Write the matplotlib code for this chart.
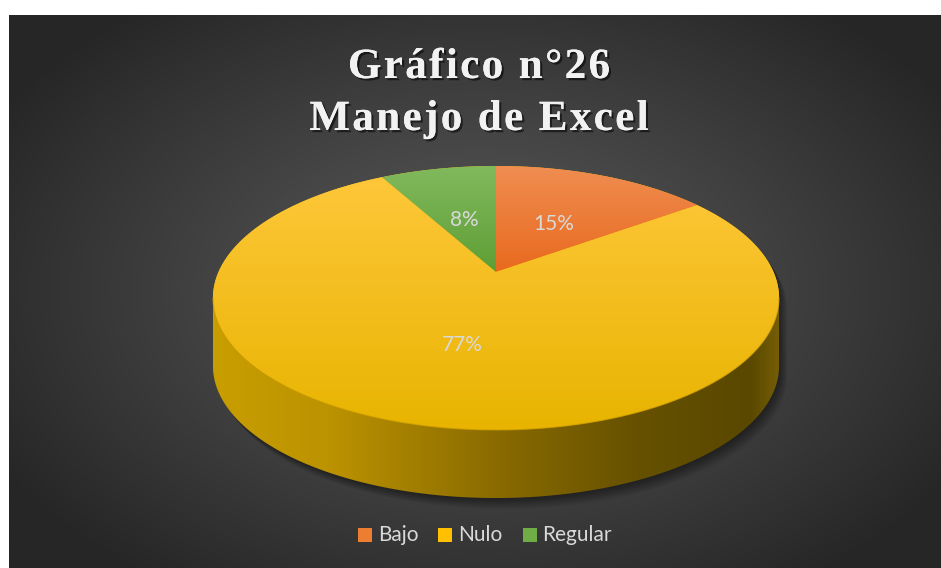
import numpy as np
import matplotlib
matplotlib.use('Agg')
import matplotlib.pyplot as plt
from matplotlib.patches import Polygon, Rectangle
import matplotlib.patheffects as pe
from matplotlib.font_manager import FontProperties, findfont
from matplotlib.ft2font import FT2Font
from matplotlib.colors import LinearSegmentedColormap

# ---------------- data ----------------
categories = ['Bajo', 'Nulo', 'Regular']
values = [15, 77, 8]
slice_colors = ['#ED7D31', '#FFC000', '#70AD47']
slice_top_colors = ['#F08E52', '#FEC73A', '#82BA5E']
slice_bottom_colors = ['#E8691E', '#E8B400', '#5E9E35']
title_lines = ['Gráfico n°26', 'Manejo de Excel']

# ---------------- figure ----------------
W, H = 941, 568
DPI = 100
fig = plt.figure(figsize=(W / DPI, H / DPI), dpi=DPI, facecolor='white')
ax = fig.add_axes([0, 0, 1, 1])
ax.axis('off')

# background radial gradient (chart area)
X0, Y0 = 9, 15
gx = np.linspace(X0, W, 470)
gy = np.linspace(Y0, H, 280)
GX, GY = np.meshgrid(gx, gy)
t = np.sqrt(((GX - 480) / 560) ** 2 + ((GY - 290) / 360) ** 2)
t = np.clip(t, 0, 1) ** 1.1
c_in = np.array([90, 90, 90]) / 255
c_out = np.array([38, 38, 38]) / 255
bg = c_in * (1 - t[..., None]) + c_out * t[..., None]
ax.imshow(bg, extent=(X0, W, H, Y0), origin='upper', aspect='auto',
          zorder=0, interpolation='bilinear')
ax.set_xlim(0, W)
ax.set_ylim(H, 0)

# ---------------- 3D pie geometry ----------------
CX, CY = 496, 272
RA, RB, K = 277.5, 126.9, -0.197
DEPTH = 68


def proj(phi_deg, r=1.0):
    phi = np.radians(phi_deg)
    x = r * np.sin(phi)
    z = -r * np.cos(phi)
    w = 1 + K * z
    return CX + RA * x / w, CY + RB * z / w


phi_r = np.degrees(np.arccos(K))
phi_l = 360 - phi_r

# full top ellipse
allphi = np.linspace(0, 360, 720)
ex, ey = proj(allphi)

# side polygon (visible front wall)
sphi = np.linspace(phi_r, phi_l, 400)
sx, sy = proj(sphi)
side_pts = np.column_stack([np.r_[sx, sx[::-1]], np.r_[sy, sy[::-1] + DEPTH]])

# silhouette for the shadow
back_phi = np.linspace(phi_l, phi_r + 360, 400)
bx, by = proj(back_phi)
sil_full = np.vstack([np.column_stack([sx, sy + DEPTH]),
                      np.column_stack([bx, by])])

# soft shadow
for i in range(1, 10):
    sh = sil_full.copy()
    sh[:, 0] += i * 0.9
    sh[:, 1] += i * 1.2
    ax.add_patch(Polygon(sh, closed=True, facecolor='black', edgecolor='none',
                         alpha=0.05, zorder=1))

# side with horizontal gradient
side_cmap = LinearSegmentedColormap.from_list('side', [
    (0.00, (200 / 255, 158 / 255, 0)),
    (0.20, (188 / 255, 147 / 255, 0)),
    (0.50, (138 / 255, 107 / 255, 0)),
    (0.75, (102 / 255, 81 / 255, 0)),
    (0.95, (90 / 255, 72 / 255, 0)),
    (1.00, (118 / 255, 94 / 255, 6 / 255)),
])
sxmin, sxmax = side_pts[:, 0].min(), side_pts[:, 0].max()
symin, symax = side_pts[:, 1].min(), side_pts[:, 1].max()
grad = np.linspace(0, 1, 512)[None, :]
side_patch = Polygon(side_pts, closed=True, facecolor='none', edgecolor='none', zorder=2)
ax.add_patch(side_patch)
im = ax.imshow(np.repeat(grad, 4, axis=0), cmap=side_cmap,
               extent=(sxmin, sxmax, symax, symin),
               origin='upper', aspect='auto', zorder=2, interpolation='bilinear')
im.set_clip_path(side_patch)

# base top ellipse (avoids seams between slices)
ax.add_patch(Polygon(np.column_stack([ex, ey]), closed=True, facecolor='#F8BE00',
                     edgecolor='none', zorder=3))

# slices with vertical gradient
total = float(sum(values))
start = 0.0
label_pos = []
for cat, v, ct, cb in zip(categories, values, slice_top_colors, slice_bottom_colors):
    span = 360.0 * v / total
    ph = np.linspace(start, start + span, max(int(span * 3), 4))
    px, py = proj(ph)
    pts = np.vstack([[CX, CY], np.column_stack([px, py])])
    patch = Polygon(pts, closed=True, facecolor='none', edgecolor='none', zorder=4)
    ax.add_patch(patch)
    ymin, ymax = pts[:, 1].min(), pts[:, 1].max()
    xmin, xmax = pts[:, 0].min(), pts[:, 0].max()
    cmap = LinearSegmentedColormap.from_list('s', [ct, cb])
    vg = np.linspace(0, 1, 256)[:, None]
    im2 = ax.imshow(np.repeat(vg, 4, axis=1), cmap=cmap,
                    extent=(xmin - 1, xmax + 1, ymax + 1, ymin - 1),
                    origin='upper', aspect='auto', zorder=4, interpolation='bilinear')
    im2.set_clip_path(patch)
    label_pos.append(proj(start + span / 2, 0.5))
    start += span

# top/side edge line
ax.plot(sx, sy, color='#C89A00', lw=0.8, alpha=0.7, zorder=5)

# data labels
for v, (lx, ly) in zip(values, label_pos):
    ax.text(lx, ly + 4, f'{v}%', color='#D9D9D9', fontsize=15, family='Lato',
            ha='center', va='center', zorder=6)

# ---------------- title with letter spacing ----------------
tfp = FontProperties(family='Liberation Serif', weight='bold', size=31)
tfont = FT2Font(findfont(tfp))
tfont.set_size(31, DPI)
SPACING = 2.4


def advance(ch):
    g = tfont.load_char(ord(ch))
    return g.linearHoriAdvance / 65536.0


title_center = 479
baselines = [78, 130]
for line, base in zip(title_lines, baselines):
    advs = [advance(c) for c in line]
    total_w = sum(advs) + SPACING * (len(line) - 1)
    x = title_center - total_w / 2
    for ch, a in zip(line, advs):
        if ch != ' ':
            ax.text(x, base, ch, fontproperties=tfp, color='#F2F2F2',
                    ha='left', va='baseline', zorder=7,
                    path_effects=[pe.withSimplePatchShadow(offset=(1.6, -1.6),
                                                           shadow_rgbFace='black',
                                                           alpha=0.55),
                                  pe.Normal()])
        x += a + SPACING

# ---------------- legend ----------------
fig.canvas.draw()
renderer = fig.canvas.get_renderer()
SQ = 14
GAP_T = 6
GAP_I = 20
LEG_Y = 535
texts = []
widths = []
for cat in categories:
    tx = ax.text(0, LEG_Y, cat, color='#D9D9D9', fontsize=15, family='Lato',
                 ha='left', va='center', zorder=7)
    bb = tx.get_window_extent(renderer)
    texts.append(tx)
    widths.append(bb.width)
total_leg = sum(SQ + GAP_T + w for w in widths) + GAP_I * (len(categories) - 1)
x = 485 - total_leg / 2
for tx, w, col in zip(texts, widths, slice_colors):
    ax.add_patch(Rectangle((x, LEG_Y - SQ / 2), SQ, SQ, facecolor=col,
                           edgecolor='none', zorder=7))
    tx.set_x(x + SQ + GAP_T)
    x += SQ + GAP_T + w + GAP_I

fig.savefig('out.png', dpi=DPI, facecolor='white')
